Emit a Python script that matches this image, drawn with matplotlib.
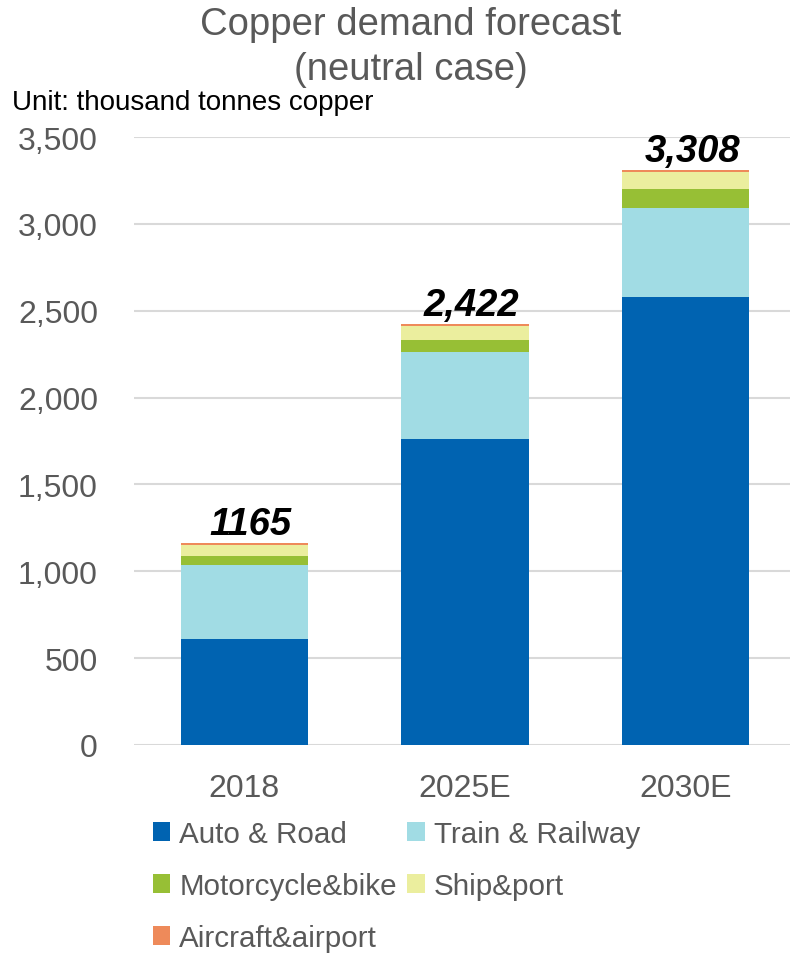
import matplotlib
matplotlib.use("Agg")
import matplotlib.pyplot as plt
import numpy as np

plt.rcParams['font.family'] = ['Liberation Sans', 'DejaVu Sans']

years = ["2018", "2025E", "2030E"]
auto_road = [610, 1762, 2577]
train_rail = [426, 500, 515]
moto_bike = [52, 68, 109]
ship_port = [65, 84, 96]
aircraft = [12, 8, 11]
totals = [1165, 2422, 3308]
total_labels = ["1165", "2,422", "3,308"]

series = [
    ("Auto & Road", auto_road, "#0063B1"),
    ("Train & Railway", train_rail, "#A1DCE4"),
    ("Motorcycle&bike", moto_bike, "#97BF35"),
    ("Ship&port", ship_port, "#EBEE9E"),
    ("Aircraft&airport", aircraft, "#EE8A5A"),
]

gray = "#595959"

fig = plt.figure(figsize=(7.9, 9.54), dpi=100)
ax = fig.add_axes([134 / 790, 1 - 746 / 954, 1 - 134 / 790, (746 - 138) / 954])

x = np.arange(len(years))
bottom = np.zeros(len(years))
handles = {}
for name, vals, col in series:
    b = ax.bar(x, vals, 0.575, bottom=bottom, color=col, label=name, zorder=3)
    handles[name] = b
    bottom += np.array(vals)

for i, t in enumerate(totals):
    ax.text(x[i] + 0.03, t + 5, total_labels[i], ha='center', va='bottom',
            fontsize=27.5, fontweight='bold', fontstyle='italic', color='black')

ax.set_ylim(0, 3500)
ax.set_xlim(-0.498, 2.471)
ax.set_yticks(np.arange(0, 3501, 500))
ax.set_yticklabels(["{:,}".format(v) for v in range(0, 3501, 500)])
ax.set_xticks(x)
ax.set_xticklabels(years)
ax.yaxis.grid(True, color="#D9D9D9", linewidth=1.5, zorder=0)
for s in ["top", "right", "left", "bottom"]:
    ax.spines[s].set_visible(False)
ax.tick_params(axis='y', length=0, pad=26, labelsize=23, labelcolor=gray)
ax.tick_params(axis='x', length=0, pad=20, labelsize=23, labelcolor=gray)

fig.text(411 / 790, 1 - 25 / 954, "Copper demand forecast", ha='center', va='center',
         fontsize=27.5, color=gray)
fig.text(411 / 790, 1 - 70 / 954, "(neutral case)", ha='center', va='center',
         fontsize=27.5, color=gray)
fig.text(12 / 790, 1 - 103 / 954, "Unit: thousand tonnes copper", ha='left', va='center',
         fontsize=20, color='black')

order = ["Auto & Road", "Motorcycle&bike", "Aircraft&airport", "Train & Railway", "Ship&port"]
leg = fig.legend([handles[n] for n in order], order, ncol=2, loc='upper left',
                 bbox_to_anchor=(132 / 790, 1 - 800 / 954), frameon=False,
                 fontsize=21.3, handlelength=0.6, handleheight=0.6, handletextpad=0.3,
                 columnspacing=0.35, labelspacing=0.82, borderpad=0.2)
for t in leg.get_texts():
    t.set_color(gray)

fig.savefig("out.png", dpi=100)
